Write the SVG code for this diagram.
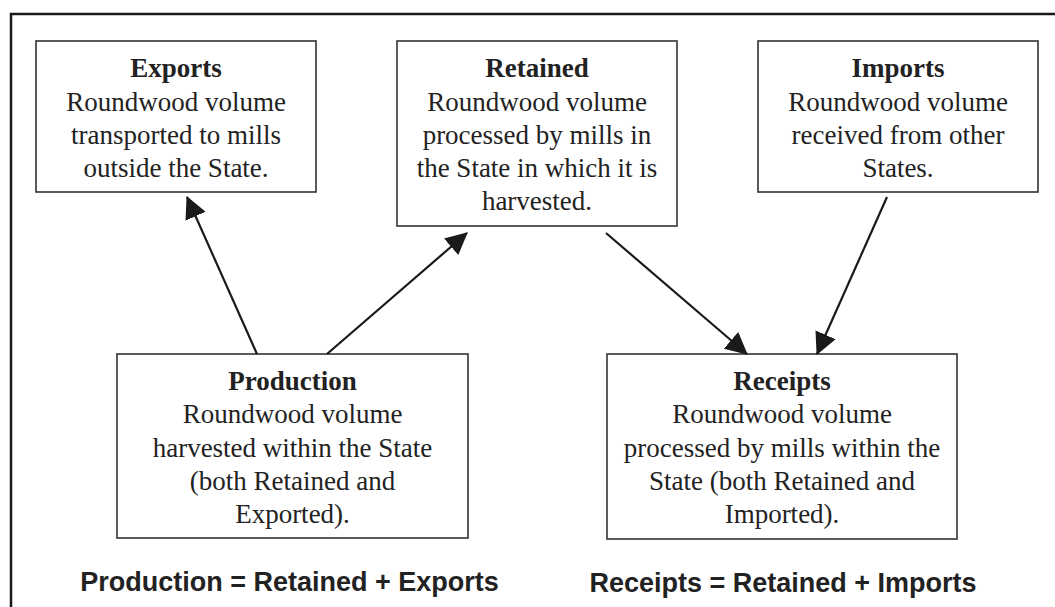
<svg xmlns="http://www.w3.org/2000/svg" width="1055" height="607" viewBox="0 0 1055 607">
<style>
.box{fill:#fff;stroke:#333;stroke-width:1.6}
.t{font-family:"Liberation Serif","Times New Roman",serif;font-size:27px;fill:#222;text-anchor:middle}
.b{font-weight:bold}
.f{font-family:"Liberation Sans",Arial,sans-serif;font-size:27px;font-weight:bold;fill:#222;text-anchor:middle}
.c{stroke:#1a1a1a;stroke-width:2.2;fill:none;marker-end:url(#ah)}
.frame{stroke:#1a1a1a;stroke-width:2.5;fill:none}
</style>
<defs>
<marker id="ah" markerUnits="userSpaceOnUse" markerWidth="22" markerHeight="22" refX="21" refY="11" orient="auto" viewBox="0 0 22 22">
<path d="M0,0 L22,11 L0,22 Z" fill="#1a1a1a"/>
</marker>
</defs>
<rect width="1055" height="607" fill="#fff"/>
<path class="frame" d="M11,607 L11,14 L1055,14"/>
<g id="exports">
<rect class="box" x="36" y="41" width="280" height="151"/>
<text class="t b" x="176" y="77">Exports</text>
<text class="t" x="176" y="110.5">Roundwood volume</text>
<text class="t" x="176" y="144">transported to mills</text>
<text class="t" x="176" y="177">outside the State.</text>
</g>
<g id="retained">
<rect class="box" x="397" y="41" width="280" height="185"/>
<text class="t b" x="537" y="77">Retained</text>
<text class="t" x="537" y="110.5">Roundwood volume</text>
<text class="t" x="537" y="143.5">processed by mills in</text>
<text class="t" x="537" y="176.5">the State in which it is</text>
<text class="t" x="537" y="210">harvested.</text>
</g>
<g id="imports">
<rect class="box" x="758" y="41" width="280" height="151"/>
<text class="t b" x="898" y="77">Imports</text>
<text class="t" x="898" y="110.5">Roundwood volume</text>
<text class="t" x="898" y="144">received from other</text>
<text class="t" x="898" y="177">States.</text>
</g>
<g id="production">
<rect class="box" x="117" y="354" width="351" height="184"/>
<text class="t b" x="292.5" y="389.5">Production</text>
<text class="t" x="292.5" y="423">Roundwood volume</text>
<text class="t" x="292.5" y="456.5">harvested within the State</text>
<text class="t" x="292.5" y="490">(both Retained and</text>
<text class="t" x="292.5" y="523">Exported).</text>
</g>
<g id="receipts">
<rect class="box" x="607" y="354" width="350" height="185"/>
<text class="t b" x="782" y="389.5">Receipts</text>
<text class="t" x="782" y="423">Roundwood volume</text>
<text class="t" x="782" y="456.5">processed by mills within the</text>
<text class="t" x="782" y="490">State (both Retained and</text>
<text class="t" x="782" y="523">Imported).</text>
</g>
<g id="connectors">
<line class="c" x1="257" y1="354" x2="187" y2="197"/>
<line class="c" x1="327" y1="354" x2="467" y2="233"/>
<line class="c" x1="606" y1="233" x2="747" y2="354"/>
<line class="c" x1="887" y1="197" x2="817" y2="354"/>
</g>
<g id="formulas">
<text class="f" x="289.5" y="591">Production = Retained + Exports</text>
<text class="f" x="783" y="592">Receipts = Retained + Imports</text>
</g>
</svg>
